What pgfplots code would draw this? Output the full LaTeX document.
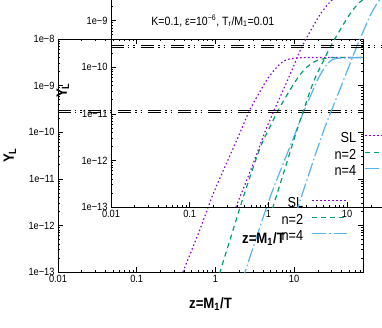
\documentclass[border=0pt]{standalone}
\usepackage{fontspec}
\setmainfont{Liberation Sans}[FakeStretch=0.88]
\usepackage{pgfplots}
\usepackage{pgfplotstable}
\pgfplotsset{compat=1.18}

\definecolor{gpPurple}{RGB}{148,0,211}
\definecolor{gpGreen}{RGB}{0,158,115}
\definecolor{gpBlue}{RGB}{86,180,233}

% Y_L(z) curves
\pgfplotstableread{
z      Y
0.316  3.98e-14
0.387  1.00e-13
0.631  7.94e-13
0.933  4.68e-12
1.413  2.34e-11
1.995  8.71e-11
2.630  2.63e-10
3.475  6.31e-10
4.656  1.445e-9
6.067  2.51e-9
7.656  3.47e-9
10.26  3.89e-9
15.85  4.00e-9
79.4   4.00e-9
}\slData

\pgfplotstableread{
z      Y
0.891  2.57e-14
1.143  1.00e-13
1.585  5.89e-13
2.377  5.25e-12
3.690  4.57e-11
5.010  1.38e-10
6.620  3.47e-10
10.26  1.20e-9
13.77  2.29e-9
18.45  3.31e-9
23.99  3.80e-9
31.60  4.00e-9
79.4   4.00e-9
}\ntwoData

\pgfplotstableread{
z      Y
1.778  2.19e-14
2.377  1.00e-13
3.548  7.76e-13
5.190  5.01e-12
8.910  5.01e-11
12.59  2.24e-10
15.85  5.62e-10
19.95  1.35e-9
25.12  2.63e-9
30.20  3.55e-9
38.00  3.89e-9
79.4   4.00e-9
}\nfourData

\tikzset{
  sl/.style={gpPurple, line width=1.2pt, dash pattern=on 1.5pt off 2.5pt},
  ntwo/.style={gpGreen, line width=1.2pt, dash pattern=on 5pt off 4pt},
  nfour/.style={gpBlue, line width=1.2pt, dash pattern=on 14pt off 3pt on 1.5pt off 3pt},
  band/.style={black, line width=0.9pt,
    dash pattern=on 13pt off 4pt on 1.5pt off 4pt on 1.5pt off 6pt},
}

\pgfplotsset{
  legend image code/.code={\draw[#1] (0pt,0.33em) -- (35pt,0.33em);},
  every axis/.append style={
    width=305pt, height=233pt, scale only axis,
    xmin=0.01, xmax=75, ymin=1e-13, ymax=1e-8,
    xtick={0.01,0.1,1,10}, xticklabels={0.01,0.1,1,10},
    ytick={1e-13,1e-12,1e-11,1e-10,1e-9,1e-8},
    yticklabels={1e−13,1e−12,1e−11,1e−10,1e−9,1e−8},
    minor xtick={0.02,0.03,0.04,0.05,0.06,0.07,0.08,0.09,
      0.2,0.3,0.4,0.5,0.6,0.7,0.8,0.9,2,3,4,5,6,7,8,9,20,30,40,50,60,70},
    minor ytick={2e-13,3e-13,4e-13,5e-13,6e-13,7e-13,8e-13,9e-13,
      2e-12,3e-12,4e-12,5e-12,6e-12,7e-12,8e-12,9e-12,
      2e-11,3e-11,4e-11,5e-11,6e-11,7e-11,8e-11,9e-11,
      2e-10,3e-10,4e-10,5e-10,6e-10,7e-10,8e-10,9e-10,
      2e-9,3e-9,4e-9,5e-9,6e-9,7e-9,8e-9,9e-9},
    tick label style={font=\fontsize{10.5}{12}\selectfont},
    major tick length=5pt, minor tick length=2pt,
    tick style={black, line width=0.6pt},
    axis line style={line width=0.8pt},
    xlabel={\textbf{z=M\textsubscript{1}/T}},
    ylabel={\textbf{Y\textsubscript{L}}},
    label style={font=\fontsize{15}{17}\selectfont},
    xlabel style={at={(axis description cs:0.5,-0.137)}, anchor=center},
    ylabel style={at={(axis description cs:-0.158,0.5)}, anchor=center},
    legend plot pos=right,
    legend cell align=right,
    legend style={at={(0.951,0.328)}, anchor=north east, draw=none, fill=none,
      inner sep=0pt, column sep=7pt, font=\fontsize{14.5}{16}\selectfont,
      nodes={inner sep=1.5pt, text height=10.5pt, text depth=3pt}},
  },
}

\begin{document}
\begin{tikzpicture}
\useasboundingbox (0,0) rectangle (382pt,327pt);
\clip (0,0) rectangle (382pt,327pt);

% back panel
\begin{loglogaxis}[at={(58pt,55pt)}, anchor=south west]
  \addplot[sl, smooth] table[x=z, y=Y] {\slData};
  \addplot[ntwo, smooth] table[x=z, y=Y] {\ntwoData};
  \addplot[nfour, smooth] table[x=z, y=Y] {\nfourData};
  \addplot[band, forget plot] coordinates {(0.01,3.0e-10) (75,3.0e-10)};
  \addplot[band, forget plot] coordinates {(0.01,2.6e-10) (75,2.6e-10)};
  \legend{SL,n=2,n=4}
\end{loglogaxis}

% front panel, shifted
\begin{loglogaxis}[at={(111pt,120pt)}, anchor=south west]
  \addplot[sl, smooth] table[x=z, y=Y] {\slData};
  \addplot[ntwo, smooth] table[x=z, y=Y] {\ntwoData};
  \addplot[nfour, smooth] table[x=z, y=Y] {\nfourData};
  \addplot[band, forget plot] coordinates {(0.01,3.0e-10) (75,3.0e-10)};
  \addplot[band, forget plot] coordinates {(0.01,2.6e-10) (75,2.6e-10)};
  \legend{SL,n=2,n=4}
  \node[anchor=base west, font=\fontsize{12}{14}\selectfont]
    at (rel axis cs:0.121,0.781)
    {K=0.1, ε=10\textsuperscript{−6}, T\textsubscript{r}/M\textsubscript{1}=0.01};
\end{loglogaxis}
\end{tikzpicture}
\end{document}
